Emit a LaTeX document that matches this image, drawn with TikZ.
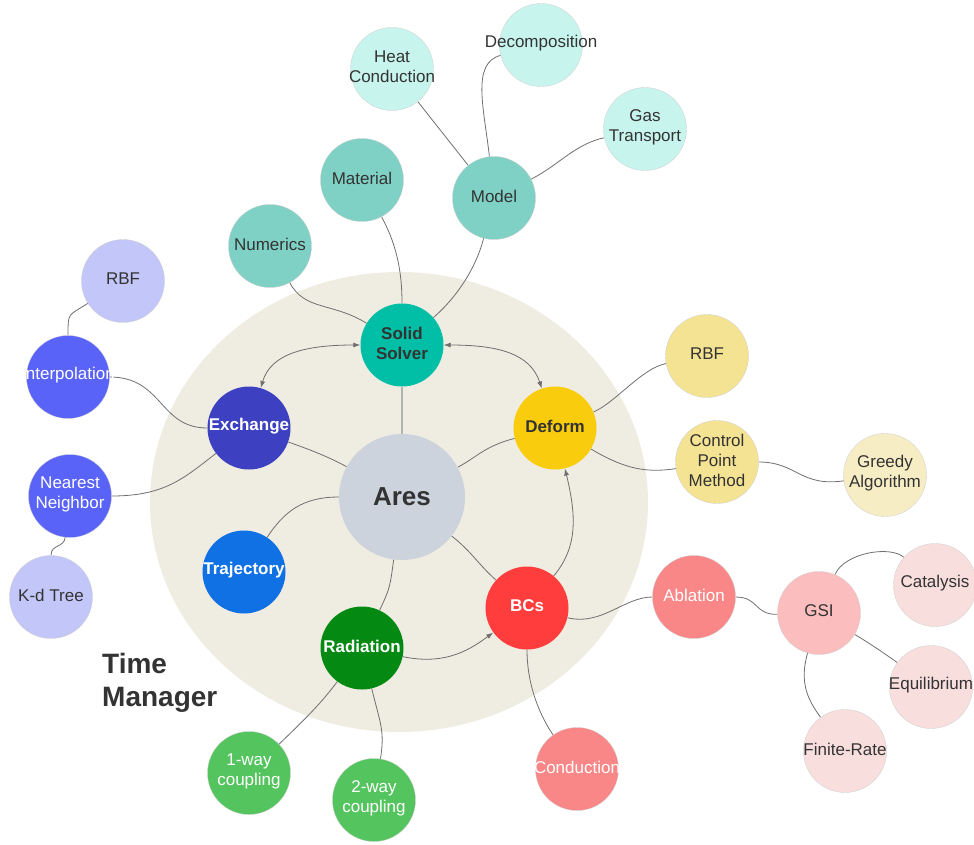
\documentclass[tikz,border=0pt]{standalone}
\usepackage{fontspec}
\setmainfont{Liberation Sans}
\usepackage{xcolor}
\usepackage{tikz}
\usetikzlibrary{arrows.meta}
\usetikzlibrary{backgrounds}

\definecolor{textdark}{HTML}{333333}
\definecolor{linegray}{HTML}{6F6F6F}
\definecolor{beige}{HTML}{EFECE1}
\definecolor{aresgray}{HTML}{CDD3DC}
\definecolor{solidteal}{HTML}{00BFA6}
\definecolor{tealmid}{HTML}{80D1C5}
\definecolor{tealpale}{HTML}{C7F5EE}
\definecolor{exchblue}{HTML}{3C40C1}
\definecolor{bluemid}{HTML}{5A63F8}
\definecolor{bluepale}{HTML}{C3C6F8}
\definecolor{trajblue}{HTML}{1071E5}
\definecolor{radgreen}{HTML}{048A12}
\definecolor{greenmid}{HTML}{54C45E}
\definecolor{bcsred}{HTML}{FF3D3D}
\definecolor{redmid}{HTML}{FA8787}
\definecolor{pinkmid}{HTML}{FBBDBD}
\definecolor{pinkpale}{HTML}{F9DEDE}
\definecolor{deformyel}{HTML}{FACC0E}
\definecolor{yelmid}{HTML}{F5E394}
\definecolor{yelpale}{HTML}{F7EDC5}

\begin{document}
\begin{tikzpicture}[x=1pt,y=-1pt,>={Latex[length=7pt,width=5pt]}]
\tikzstyle{bub}=[circle, minimum size=83pt, inner sep=0pt]
\tikzstyle{pale}=[draw=black!20, line width=0.3pt]
\tikzstyle{dk}=[text=textdark, font=\fontsize{17}{20}\selectfont, align=center, yshift=2pt]
\tikzstyle{wt}=[text=white, font=\fontsize{17}{20}\selectfont, align=center, yshift=2pt]
\tikzstyle{dkb}=[dk, font=\fontsize{17}{20}\selectfont\bfseries]
\tikzstyle{wtb}=[wt, font=\fontsize{17}{20}\selectfont\bfseries]
\tikzstyle{con}=[draw=linegray, line width=0.8pt]
\useasboundingbox (0,0) rectangle (974,844);

% core
\node[bub, minimum size=126pt, fill=aresgray,
      label={[dk, yshift=-2pt, font=\fontsize{26}{30}\selectfont\bfseries]center:Ares}] (ares) at (402,497) {};
\foreach \nm/\x/\y/\col/\txt in {ss/402/345/solidteal/Solid\\Solver, deform/555/428/deformyel/Deform}
    \node[bub, fill=\col, label={[dkb]center:\txt}] (\nm) at (\x,\y) {};
\foreach \nm/\x/\y/\col/\txt in {exch/249/428/exchblue/Exchange, traj/244/572/trajblue/Trajectory,
    rad/362/648/radgreen/Radiation, bcs/527/608/bcsred/BCs}
    \node[bub, fill=\col, label={[wtb]center:\txt}] (\nm) at (\x,\y) {};

% branches
\foreach \nm/\x/\y/\col/\txt in {num/270/246/tealmid/Numerics, mat/362/180/tealmid/Material,
    model/494/198/tealmid/Model, heat/392/69/tealpale/Heat\\Conduction,
    decomp/541/45/tealpale/Decomposition, gas/645/129/tealpale/Gas\\Transport,
    rbfa/123/281/bluepale/RBF, kd/51/597/bluepale/K-d Tree,
    rbfb/707/356/yelmid/RBF, cpm/717/462/yelmid/Control\\Point\\Method,
    greedy/885/475/yelpale/Greedy\\Algorithm, gsi/819/613/pinkmid/GSI,
    cat/935/585/pinkpale/Catalysis, equil/931/687/pinkpale/Equilibrium,
    finite/845/751/pinkpale/Finite-Rate}
    \node[bub, pale, fill=\col, label={[dk]center:\txt}] (\nm) at (\x,\y) {};
\foreach \nm/\x/\y/\col/\txt in {interp/68/377/bluemid/Interpolation, nn/70/496/bluemid/Nearest\\Neighbor,
    abl/694/597/redmid/Ablation, cond/577/769/redmid/Conduction,
    one/249/773/greenmid/1-way\\coupling, two/374/800/greenmid/2-way\\coupling}
    \node[bub, pale, fill=\col, label={[wt]center:\txt}] (\nm) at (\x,\y) {};

\node[text=textdark, font=\fontsize{28}{33}\selectfont\bfseries, align=left,
      anchor=north west, inner sep=0pt] (tm) at (102,653) {Time\\Manager};

\begin{scope}[on background layer]
\fill[beige] (399,502) ellipse [x radius=249, y radius=230];
\draw[line width=1.2pt, black!30] (ss) -- (ares);
\foreach \a/\b/\ax/\ay/\bx/\by in {num/ss/35/65/-70/-43, mat/ss/32/60/0/-80,
    model/ss/-18/70/55/-48, heat/model/34/43/-34/-43, decomp/model/-70/18/-10/-90,
    gas/model/-70/15/65/-33, ares/exch/-75/-41/59/21, ares/deform/75/-40/-70/18,
    ares/traj/-100/0/40/-60, ares/rad/-12/90/28/-60, ares/bcs/70/55/-50/-45,
    exch/interp/-90/0/95/0, exch/nn/-65/50/95/0, interp/rbfa/0/-65/-55/35,
    nn/kd/-6/52/0/-53, deform/rbfb/60/-25/-65/12, deform/cpm/65/38/-75/12,
    cpm/greedy/80/0/-85/12, bcs/abl/75/18/-70/0, abl/gsi/65/0/-65/2,
    gsi/cat/25/-60/-45/-40, gsi/equil/50/30/-47/-34, gsi/finite/-20/70/-37/-51,
    bcs/cond/0/80/-35/-50, rad/one/-42/57/51/-49, rad/two/18/75/11/-70}
    \draw[con] (\a) .. controls +(\ax,\ay) and +(\bx,\by) .. (\b);
\draw[con, <->] (ss) .. controls +(-95,0) and +(22,-75) .. (exch);
\draw[con, <->] (ss) .. controls +(95,0) and +(-25,-75) .. (deform);
\draw[con, ->] (bcs) .. controls +(50,-60) and +(22,90) .. (deform);
\draw[con, ->] (rad) .. controls +(85,18) and +(-55,40) .. (bcs);
\end{scope}
\end{tikzpicture}
\end{document}
